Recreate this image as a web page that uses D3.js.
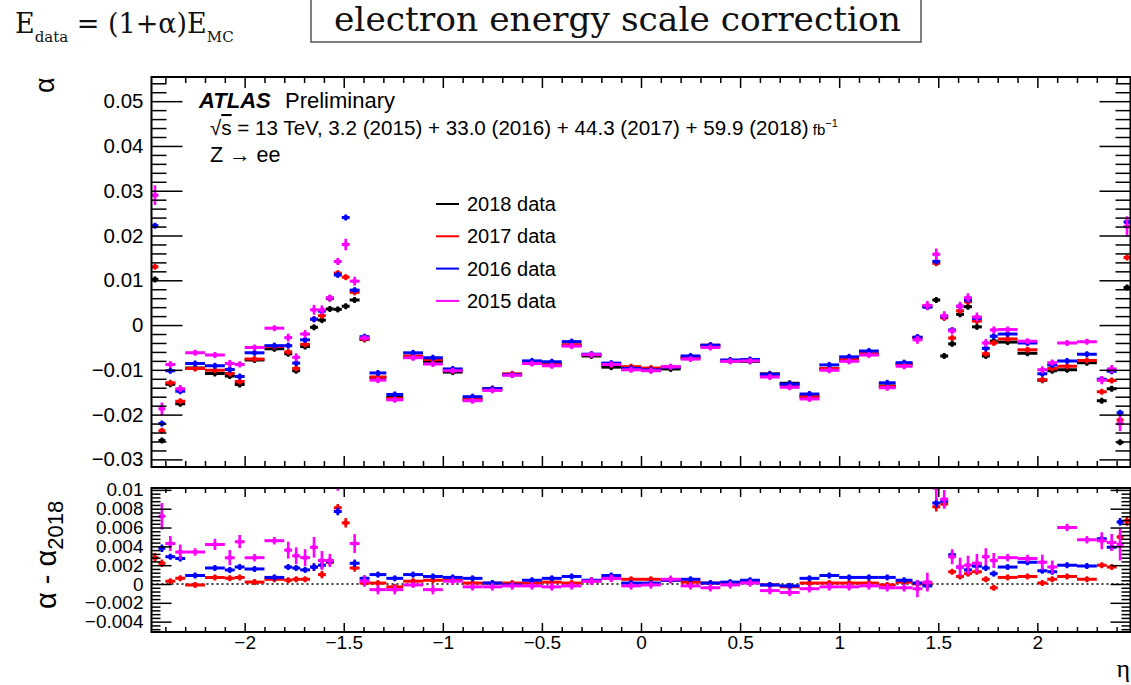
<!DOCTYPE html>
<html><head><meta charset="utf-8">
<script src="https://cdn.jsdelivr.net/npm/d3@7"></script>
<style>
html,body{margin:0;padding:0;background:#fff;}
svg{display:block;}
</style></head><body>
<svg id="chart" width="1131" height="685"></svg>
<script>
// eta bin edges (68 bins)
const etaEdges = [-2.47,-2.435,-2.4,-2.35,-2.3,-2.2,-2.1,-2.05,-2.0,-1.9,-1.8,-1.76,-1.72,-1.67,-1.63,-1.59,-1.55,-1.51,-1.47,-1.42,-1.37,-1.285,-1.2,-1.1,-1.0,-0.9,-0.8,-0.7,-0.6,-0.5,-0.4,-0.3,-0.2,-0.1,0,
  0.1,0.2,0.3,0.4,0.5,0.6,0.7,0.8,0.9,1.0,1.1,1.2,1.285,1.37,1.42,1.47,1.51,1.55,1.59,1.63,1.67,1.72,1.76,1.8,1.9,2.0,2.05,2.1,2.2,2.3,2.35,2.4,2.435,2.47];

// energy scale alpha per bin, one array per data-taking year
const alpha2018 = [0.0102,-0.0258,-0.0132,-0.0176,-0.0096,-0.0108,-0.0114,-0.0133,-0.0078,-0.0053,-0.0064,-0.0102,-0.0048,-0.0005,0.0011,0.0036,0.0035,0.0042,0.0056,-0.0032,-0.0117,-0.0161,-0.0072,-0.0081,-0.0105,-0.0166,-0.0143,-0.0110,-0.0084,-0.0088,-0.0045,-0.0069,-0.0094,-0.0098,
  -0.0101,-0.0098,-0.0074,-0.0046,-0.0080,-0.0081,-0.0109,-0.0130,-0.0160,-0.0098,-0.0078,-0.0065,-0.0136,-0.0088,-0.0028,0.0042,0.0056,-0.0069,-0.0042,0.0024,0.0041,-0.0004,-0.0069,-0.0036,-0.0038,-0.0063,-0.0123,-0.0102,-0.0100,-0.0084,-0.0169,-0.0142,-0.0262,0.0084];
const alpha2017 = [0.0130,-0.0236,-0.0129,-0.0170,-0.0097,-0.0101,-0.0108,-0.0126,-0.0076,-0.0048,-0.0060,-0.0097,-0.0043,0.0013,0.0021,0.0059,0.0116,0.0107,0.0073,-0.0031,-0.0116,-0.0164,-0.0069,-0.0077,-0.0101,-0.0165,-0.0142,-0.0109,-0.0083,-0.0086,-0.0044,-0.0066,-0.0088,-0.0093,
  -0.0096,-0.0094,-0.0072,-0.0045,-0.0079,-0.0079,-0.0110,-0.0133,-0.0159,-0.0097,-0.0077,-0.0064,-0.0137,-0.0086,-0.0028,0.0042,0.0138,0.0016,-0.0029,0.0032,0.0052,0.0009,-0.0064,-0.0040,-0.0031,-0.0055,-0.0122,-0.0097,-0.0092,-0.0079,-0.0149,-0.0124,-0.0212,0.0151];
const alpha2016 = [0.0222,-0.0220,-0.0102,-0.0148,-0.0086,-0.0091,-0.0099,-0.0115,-0.0062,-0.0046,-0.0046,-0.0085,-0.0033,0.0013,0.0031,0.0060,0.0112,0.0240,0.0078,-0.0026,-0.0107,-0.0155,-0.0062,-0.0073,-0.0098,-0.0160,-0.0142,-0.0111,-0.0080,-0.0082,-0.0037,-0.0065,-0.0085,-0.0097,
  -0.0100,-0.0094,-0.0069,-0.0045,-0.0078,-0.0077,-0.0110,-0.0132,-0.0154,-0.0089,-0.0071,-0.0058,-0.0129,-0.0084,-0.0027,0.0040,0.0142,0.0019,-0.0011,0.0042,0.0056,0.0015,-0.0052,-0.0025,-0.0020,-0.0040,-0.0109,-0.0089,-0.0080,-0.0065,-0.0121,-0.0103,-0.0196,0.0230];
const alpha2015 = [0.0290,-0.0187,-0.0088,-0.0142,-0.0062,-0.0067,-0.0086,-0.0088,-0.0050,-0.0007,-0.0028,-0.0072,-0.0020,0.0034,0.0034,0.0061,0.0142,0.0180,0.0098,-0.0029,-0.0123,-0.0167,-0.0073,-0.0087,-0.0102,-0.0169,-0.0146,-0.0112,-0.0086,-0.0091,-0.0047,-0.0066,-0.0088,-0.0100,
  -0.0102,-0.0093,-0.0076,-0.0050,-0.0081,-0.0080,-0.0116,-0.0139,-0.0165,-0.0101,-0.0081,-0.0067,-0.0140,-0.0092,-0.0033,0.0044,0.0158,0.0021,-0.0013,0.0042,0.0061,0.0018,-0.0040,-0.0011,-0.0010,-0.0036,-0.0100,-0.0084,-0.0040,-0.0037,-0.0123,-0.0098,-0.0220,0.0220];

// differences with respect to 2018
const diff2017 = [0.0028,0.0022,0.0003,0.0006,-0.0001,0.0007,0.0006,0.0007,0.0002,0.0005,0.0004,0.0005,0.0005,0.0018,0.0010,0.0023,0.0081,0.0065,0.0017,0.0001,0.0001,-0.0003,0.0003,0.0004,0.0004,0.0001,0.0001,0.0001,0.0001,0.0002,0.0001,0.0003,0.0006,0.0005,
  0.0005,0.0004,0.0002,0.0001,0.0001,0.0002,-0.0001,-0.0003,0.0001,0.0001,0.0001,0.0001,-0.0001,0.0002,0.0000,0.0000,0.0082,0.0085,0.0013,0.0008,0.0011,0.0013,0.0005,-0.0004,0.0007,0.0008,0.0001,0.0005,0.0008,0.0005,0.0020,0.0018,0.0050,0.0067];
const diff2016 = [0.0120,0.0038,0.0029,0.0027,0.0009,0.0017,0.0015,0.0018,0.0016,0.0007,0.0018,0.0017,0.0015,0.0018,0.0020,0.0024,0.0077,0.0198,0.0022,0.0006,0.0010,0.0006,0.0010,0.0008,0.0007,0.0006,0.0001,-0.0001,0.0004,0.0006,0.0008,0.0004,0.0009,0.0001,
  0.0001,0.0004,0.0005,0.0001,0.0002,0.0004,-0.0001,-0.0002,0.0006,0.0009,0.0007,0.0007,0.0007,0.0004,0.0001,-0.0002,0.0086,0.0088,0.0031,0.0018,0.0015,0.0019,0.0017,0.0011,0.0018,0.0023,0.0014,0.0013,0.0020,0.0019,0.0048,0.0039,0.0066,0.0146];
const diff2015 = [0.0188,0.0072,0.0043,0.0034,0.0034,0.0042,0.0028,0.0045,0.0028,0.0046,0.0036,0.0030,0.0028,0.0039,0.0025,0.0025,0.0107,0.0138,0.0043,0.0003,-0.0006,-0.0006,-0.0001,-0.0006,0.0003,-0.0003,-0.0003,-0.0002,-0.0002,-0.0003,-0.0002,0.0003,0.0006,-0.0002,
  -0.0001,0.0005,-0.0002,-0.0004,-0.0001,0.0001,-0.0007,-0.0009,-0.0005,-0.0003,-0.0003,-0.0002,-0.0004,-0.0004,-0.0005,0.0002,0.0102,0.0090,0.0029,0.0018,0.0020,0.0022,0.0029,0.0025,0.0028,0.0027,0.0023,0.0018,0.0060,0.0047,0.0046,0.0044,0.0042,0.0136];

// statistical uncertainties per bin
const err2018 = [0.0003,0.0003,0.0002,0.0002,0.0001,0.0001,0.0002,0.0002,0.0001,0.0001,0.0002,0.0002,0.0002,0.0002,0.0002,0.0002,0.0002,0.0003,0.0002,0.0001,0.0001,0.0001,0.0001,0.0001,0.0001,0.0001,0.0001,0.0001,0.0001,0.0001,0.0001,0.0001,0.0001,0.0001,
  0.0001,0.0001,0.0001,0.0001,0.0001,0.0001,0.0001,0.0001,0.0001,0.0001,0.0001,0.0001,0.0001,0.0001,0.0001,0.0002,0.0003,0.0002,0.0002,0.0002,0.0002,0.0002,0.0002,0.0002,0.0001,0.0001,0.0002,0.0002,0.0001,0.0001,0.0002,0.0002,0.0003,0.0003];
const err2017 = [0.0005,0.0004,0.0003,0.0003,0.0002,0.0002,0.0003,0.0003,0.0002,0.0002,0.0003,0.0003,0.0003,0.0004,0.0004,0.0003,0.0004,0.0005,0.0004,0.0002,0.0002,0.0002,0.0002,0.0002,0.0002,0.0002,0.0002,0.0002,0.0002,0.0002,0.0002,0.0002,0.0002,0.0002,
  0.0002,0.0002,0.0002,0.0002,0.0002,0.0002,0.0002,0.0002,0.0002,0.0002,0.0002,0.0002,0.0002,0.0002,0.0002,0.0003,0.0005,0.0004,0.0003,0.0003,0.0003,0.0003,0.0003,0.0003,0.0002,0.0002,0.0003,0.0003,0.0002,0.0002,0.0003,0.0003,0.0004,0.0005];
const err2016 = [0.0006,0.0004,0.0003,0.0003,0.0002,0.0002,0.0003,0.0003,0.0002,0.0002,0.0003,0.0003,0.0003,0.0004,0.0004,0.0003,0.0004,0.0005,0.0004,0.0003,0.0002,0.0002,0.0002,0.0002,0.0002,0.0002,0.0002,0.0002,0.0002,0.0002,0.0002,0.0002,0.0002,0.0002,
  0.0002,0.0002,0.0002,0.0002,0.0002,0.0002,0.0002,0.0002,0.0002,0.0002,0.0002,0.0002,0.0002,0.0002,0.0003,0.0004,0.0005,0.0004,0.0004,0.0003,0.0003,0.0003,0.0003,0.0003,0.0002,0.0002,0.0003,0.0003,0.0002,0.0002,0.0003,0.0003,0.0004,0.0006];
const err2015 = [0.0022,0.0014,0.0008,0.0008,0.0004,0.0006,0.0008,0.0007,0.0004,0.0004,0.0009,0.0009,0.0009,0.0011,0.0010,0.0007,0.0008,0.0013,0.0010,0.0006,0.0005,0.0005,0.0003,0.0005,0.0004,0.0004,0.0004,0.0004,0.0004,0.0004,0.0004,0.0004,0.0004,0.0004,
  0.0004,0.0004,0.0004,0.0004,0.0004,0.0004,0.0004,0.0004,0.0004,0.0004,0.0004,0.0004,0.0004,0.0004,0.0009,0.0010,0.0013,0.0010,0.0008,0.0010,0.0010,0.0010,0.0009,0.0008,0.0004,0.0004,0.0008,0.0007,0.0004,0.0004,0.0009,0.0009,0.0017,0.0023];

const seriesNames = ["2018 data", "2017 data", "2016 data", "2015 data"];
const seriesColors = ["#000000", "#ff0000", "#0000ff", "#ff00ff"];

const xTickValues = [-2, -1.5, -1, -0.5, 0, 0.5, 1, 1.5, 2];
const xTickLabels = ["\u22122", "\u22121.5", "\u22121", "\u22120.5", "0", "0.5", "1", "1.5", "2"];
const yTopTickValues = [-0.03, -0.02, -0.01, 0, 0.01, 0.02, 0.03, 0.04, 0.05];
const yTopTickLabels = ["\u22120.03", "\u22120.02", "\u22120.01", "0", "0.01", "0.02", "0.03", "0.04", "0.05"];
const yBotTickValues = [-0.004, -0.002, 0, 0.002, 0.004, 0.006, 0.008, 0.01];
const yBotTickLabels = ["\u22120.004", "\u22120.002", "0", "0.002", "0.004", "0.006", "0.008", "0.01"];

const FONT = "'Liberation Sans', Arial, Helvetica, sans-serif";
const svg = d3.select("#chart");

const x = d3.scaleLinear().domain([-2.47, 2.47]).range([151.5, 1130.5]);
const yTop = d3.scaleLinear().domain([-0.0317, 0.0554]).range([467, 77]);
const yBot = d3.scaleLinear().domain([-0.0051, 0.0102]).range([632, 488]);

const xMinor = d3.range(-24, 25).filter(i => i % 5 !== 0).map(i => i / 10);
const yTopMinor = d3.range(-15, 28).filter(i => i % 5 !== 0).map(i => i * 0.002);
const yBotMinor = d3.range(-12, 26).filter(i => i % 5 !== 0).map(i => i * 0.0004);

// ---------- header ----------
const hdr = svg.append("text").attr("x", 15).attr("y", 33)
  .attr("font-family", "'DejaVu Serif', serif").attr("font-size", 27).attr("fill", "#111");
hdr.append("tspan").text("E");
hdr.append("tspan").attr("font-size", 15).attr("dy", 9).text("data");
hdr.append("tspan").attr("dy", -9).text(" = (1+\u03b1)E");
hdr.append("tspan").attr("font-size", 15).attr("dy", 9).text("MC");

svg.append("rect").attr("x", 311).attr("y", -6).attr("width", 610).attr("height", 48)
  .attr("fill", "#fff").attr("stroke", "#555").attr("stroke-width", 1.5);
svg.append("text").attr("x", 334).attr("y", 31)
  .attr("font-family", "'DejaVu Serif', serif").attr("font-size", 33)
  .attr("textLength", 567).attr("lengthAdjust", "spacingAndGlyphs").attr("fill", "#111")
  .text("electron energy scale correction");

// ---------- panels ----------
function panelFrame(yScale, yTicks, yLabels, yMinor, yMaj, yMin, xMaj, xMin, showXLabels, fontSize) {
  const [yb, yt] = yScale.range();
  const [xl, xr] = x.range();
  const g = svg.append("g");
  const style = sel => {
    sel.select(".domain").remove();
    sel.selectAll("line").attr("stroke", "#000").attr("stroke-width", 1.5);
    sel.selectAll("text").attr("font-family", FONT).attr("font-size", fontSize).attr("fill", "#000");
  };
  // left
  g.append("g").attr("transform", `translate(${xl},0)`)
    .call(d3.axisLeft(yScale).tickValues(yTicks).tickSize(-yMaj).tickPadding(8).tickFormat((d, i) => yLabels[i])).call(style);
  g.append("g").attr("transform", `translate(${xl},0)`)
    .call(d3.axisLeft(yScale).tickValues(yMinor).tickSize(-yMin).tickFormat("")).call(style);
  // right
  g.append("g").attr("transform", `translate(${xr},0)`)
    .call(d3.axisRight(yScale).tickValues(yTicks).tickSize(-yMaj).tickFormat("")).call(style);
  g.append("g").attr("transform", `translate(${xr},0)`)
    .call(d3.axisRight(yScale).tickValues(yMinor).tickSize(-yMin).tickFormat("")).call(style);
  // top
  g.append("g").attr("transform", `translate(0,${yt})`)
    .call(d3.axisTop(x).tickValues(xTickValues).tickSize(-xMaj).tickFormat("")).call(style);
  g.append("g").attr("transform", `translate(0,${yt})`)
    .call(d3.axisTop(x).tickValues(xMinor).tickSize(-xMin).tickFormat("")).call(style);
  // bottom
  g.append("g").attr("transform", `translate(0,${yb})`)
    .call(d3.axisBottom(x).tickValues(xTickValues).tickSize(-xMaj).tickPadding(4)
      .tickFormat((d, i) => showXLabels ? xTickLabels[i] : "")).call(style);
  g.append("g").attr("transform", `translate(0,${yb})`)
    .call(d3.axisBottom(x).tickValues(xMinor).tickSize(-xMin).tickFormat("")).call(style);
  g.append("rect").attr("x", xl).attr("y", yt).attr("width", xr - xl).attr("height", yb - yt)
    .attr("fill", "none").attr("stroke", "#000").attr("stroke-width", 2);
  return g;
}

function clipFor(id, yScale) {
  const [yb, yt] = yScale.range();
  const [xl, xr] = x.range();
  svg.append("clipPath").attr("id", id).append("rect")
    .attr("x", xl).attr("y", yt).attr("width", xr - xl).attr("height", yb - yt);
}
clipFor("clipTop", yTop);
clipFor("clipBot", yBot);

function drawSeries(layer, yScale, values, errors, color) {
  const pts = values.map((v, i) => ({ lo: etaEdges[i], hi: etaEdges[i + 1], v, e: errors[i] }));
  const g = layer.append("g");
  g.selectAll("line.h").data(pts).join("line").attr("class", "h")
    .attr("x1", d => x(d.lo)).attr("x2", d => x(d.hi))
    .attr("y1", d => yScale(d.v)).attr("y2", d => yScale(d.v))
    .attr("stroke", color).attr("stroke-width", 3);
  g.selectAll("line.v").data(pts).join("line").attr("class", "v")
    .attr("x1", d => x((d.lo + d.hi) / 2)).attr("x2", d => x((d.lo + d.hi) / 2))
    .attr("y1", d => Math.min(yScale(d.v + d.e), yScale(d.v) - 3))
    .attr("y2", d => Math.max(yScale(d.v - d.e), yScale(d.v) + 3))
    .attr("stroke", color).attr("stroke-width", 2.6);
  g.selectAll("rect").data(pts).join("rect")
    .attr("x", d => x((d.lo + d.hi) / 2) - 2).attr("y", d => yScale(d.v) - 2)
    .attr("width", 4).attr("height", 4).attr("fill", color);
}

// top panel: alpha
const topLayer = svg.append("g").attr("clip-path", "url(#clipTop)");
const topSeries = [alpha2018, alpha2017, alpha2016, alpha2015];
const topErrors = [err2018, err2017, err2016, err2015];
topSeries.forEach((s, k) => drawSeries(topLayer, yTop, s, topErrors[k], seriesColors[k]));
panelFrame(yTop, yTopTickValues, yTopTickLabels, yTopMinor, 31, 15, 11, 6, false, 20.5);

// bottom panel: alpha - alpha_2018
const botLayer = svg.append("g").attr("clip-path", "url(#clipBot)");
botLayer.append("line").attr("x1", x.range()[0]).attr("x2", x.range()[1])
  .attr("y1", yBot(0)).attr("y2", yBot(0))
  .attr("stroke", "#000").attr("stroke-width", 1.5).attr("stroke-dasharray", "2,3");
const botSeries = [diff2017, diff2016, diff2015];
const botErrors = [err2017, err2016, err2015];
botSeries.forEach((s, k) => drawSeries(botLayer, yBot, s, botErrors[k], seriesColors[k + 1]));
panelFrame(yBot, yBotTickValues, yBotTickLabels, yBotMinor, 20, 9, 9, 5, true, 19);

// ---------- axis titles ----------
svg.append("text").attr("transform", "translate(54,93) rotate(-90)")
  .attr("font-family", FONT).attr("font-size", 27).text("\u03b1");
const yt2 = svg.append("text").attr("transform", "translate(56,609) rotate(-90)")
  .attr("font-family", FONT).attr("font-size", 29);
yt2.append("tspan").text("\u03b1 - \u03b1");
yt2.append("tspan").attr("font-size", 22).attr("dy", 7).text("2018");
svg.append("text").attr("x", 1130).attr("y", 677).attr("text-anchor", "end")
  .attr("font-family", "'Liberation Serif', 'Times New Roman', serif").attr("font-size", 26).text("\u03b7");

// ---------- labels ----------
const atlas = svg.append("text").attr("x", 199).attr("y", 108).attr("font-family", FONT).attr("font-size", 22);
atlas.append("tspan").attr("font-weight", "bold").attr("font-style", "italic").text("ATLAS");
atlas.append("tspan").attr("x", 285).text("Preliminary");

const lumi = svg.append("text").attr("x", 210).attr("y", 135).attr("font-family", FONT).attr("font-size", 20.6);
lumi.append("tspan").text("\u221a");
lumi.append("tspan").style("text-decoration", "overline").text("s");
lumi.append("tspan").text(" = 13 TeV, 3.2 (2015) + 33.0 (2016) + 44.3 (2017) + 59.9 (2018)");
lumi.append("tspan").attr("font-size", 15).text("  fb");
lumi.append("tspan").attr("font-size", 11).attr("dy", -8).text("\u22121");

svg.append("text").attr("x", 210).attr("y", 162).attr("font-family", FONT).attr("font-size", 21.5)
  .text("Z \u2192 ee");

// legend
const leg = svg.append("g");
seriesNames.forEach((name, k) => {
  const yy = 204 + k * 32.3;
  leg.append("line").attr("x1", 436).attr("x2", 459).attr("y1", yy).attr("y2", yy)
    .attr("stroke", seriesColors[k]).attr("stroke-width", 2);
  leg.append("text").attr("x", 467).attr("y", yy).attr("dy", "0.35em")
    .attr("font-family", FONT).attr("font-size", 20).text(name);
});
</script>
</body></html>
